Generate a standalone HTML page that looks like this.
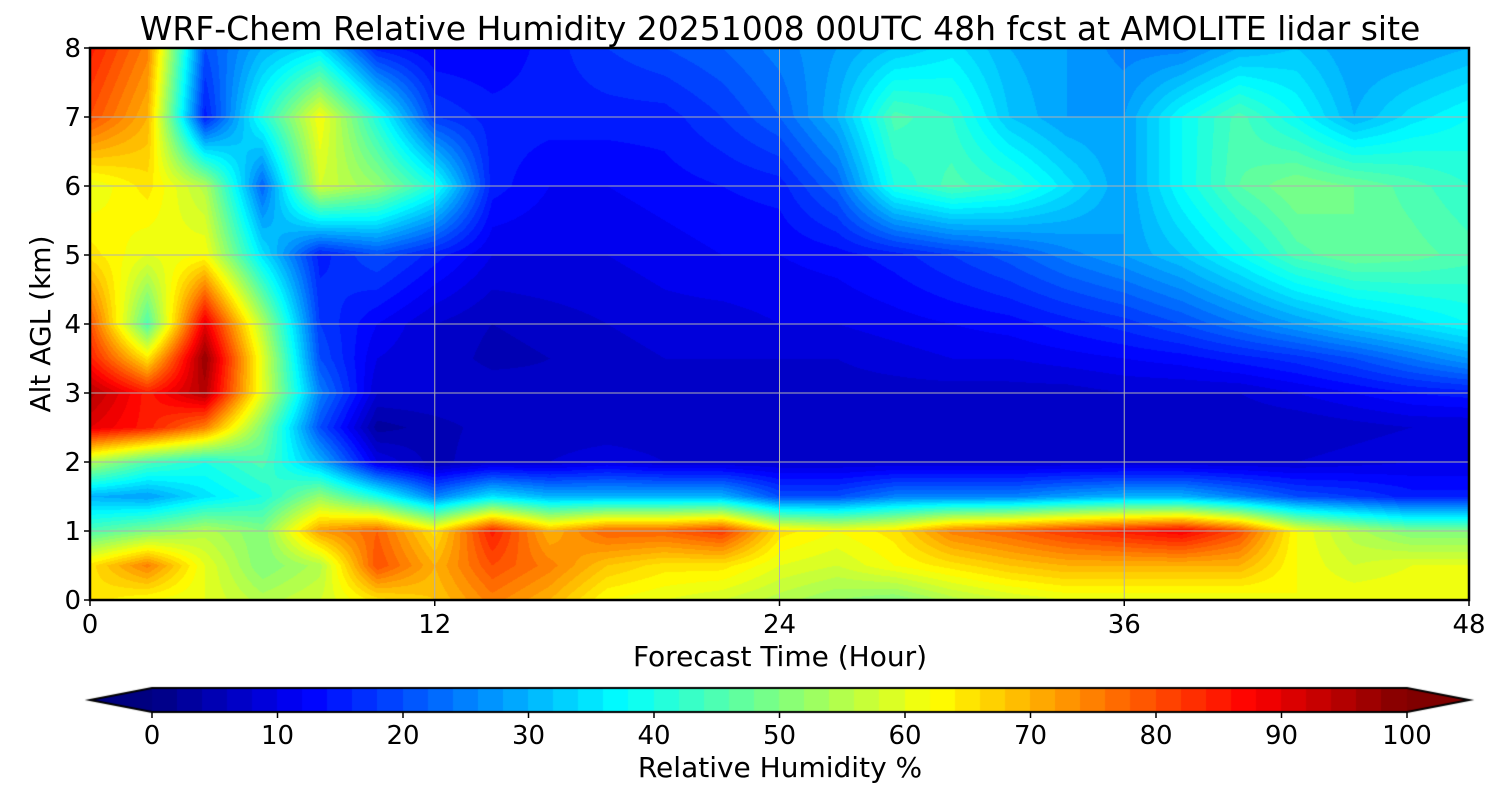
<!DOCTYPE html>
<html><head><meta charset="utf-8">
<style>
body{margin:0;background:#fff;width:1500px;height:800px;overflow:hidden;font-family:"DejaVu Sans","Liberation Sans",sans-serif;}
#wrap{position:relative;width:1500px;height:800px;}
canvas{position:absolute;left:0;top:0;}
svg{position:absolute;left:0;top:0;font-family:"DejaVu Sans","Liberation Sans",sans-serif;}
</style></head>
<body>
<div id="wrap">
<canvas id="cv" width="1500" height="800"></canvas>
<svg id="sv" width="1500" height="800"></svg>
</div>
<script>
const times=[0,2,4,6,8,10,12,14,16,18,20,22,24,26,28,30,32,34,36,38,40,42,44,46,48];
const alts=[0,0.5,1,1.5,2,2.5,3,3.5,4,5,6,7,8];
const rh0 =[65,62,60,55,58,65,68,75,70,62,60,58,55,52,50,55,58,60,60,60,60,62,62,62,62];
const rh05=[65,75,60,50,55,80,70,80,75,68,65,65,60,58,62,65,68,70,70,70,70,62,58,60,60];
const rh1 =[45,50,55,50,72,78,65,85,70,78,78,82,65,62,65,75,78,82,85,88,80,62,55,50,50];
const rh15=[30,28,35,40,52,40,25,35,30,30,30,30,20,20,25,25,25,28,30,30,25,20,18,15,15];
const rh2 =[55,45,40,45,30,10,5,8,8,10,8,8,8,8,8,8,8,8,8,8,8,8,9,10,10];
const rh25=[90,85,75,50,20,3,5,7,6,6,6,6,6,6,6,6,6,6,6,6,6,6,7,8,8];
const rh3 =[95,85,95,60,25,8,8,8,7,7,7,7,7,7,7,7,7,7,8,8,8,10,12,14,15];
const rh35=[85,65,98,60,20,10,8,5,6,7,8,8,8,8,9,10,10,11,12,13,15,17,20,24,28];
const rh4 =[80,45,90,55,18,12,8,6,7,8,9,9,10,10,11,12,13,15,17,20,24,28,32,35,38];
const rh5 =[65,60,62,35,15,20,15,10,10,10,11,12,12,13,15,18,21,25,28,32,38,45,48,47,45];
const rh6 =[60,65,55,22,58,52,40,15,12,12,13,14,15,22,40,45,42,35,28,38,46,50,48,45,42];
const rh7 =[80,70,15,40,62,40,18,15,15,15,15,18,22,30,45,42,32,28,28,38,45,38,30,35,38];
const rh8 =[85,75,20,30,35,15,12,12,15,18,20,22,25,28,32,35,30,28,25,25,30,32,28,28,30];
const rows=[rh0,rh05,rh1,rh15,rh2,rh25,rh3,rh35,rh4,rh5,rh6,rh7,rh8];
const xTicks=[0,12,24,36,48];
const yTicks=[0,1,2,3,4,5,6,7,8];
const cbTicks=[0,10,20,30,40,50,60,70,80,90,100];

const PX0=90,PX1=1469,PY0=48,PY1=600;
const xs=t=>PX0+(t-0)/48*(PX1-PX0);
const ys=a=>PY1-(a/8)*(PY1-PY0);
function jet(v){v=Math.max(0,Math.min(1,v));
 const f=x=>Math.max(0,Math.min(1,x));
 return [f(1.5-Math.abs(4*v-3)),f(1.5-Math.abs(4*v-2)),f(1.5-Math.abs(4*v-1))].map(c=>Math.round(c*255));}
function idx(arr,v){for(let i=0;i<arr.length-1;i++){if(v<=arr[i+1])return i;}return arr.length-2;}
const cv=document.getElementById('cv'),ctx=cv.getContext('2d');
const W=PX1-PX0,H=PY1-PY0;
const img=ctx.createImageData(W,H);
for(let py=0;py<H;py++){
 const a=(H-py-0.5)/H*8;const j=idx(alts,a);const fa=(a-alts[j])/(alts[j+1]-alts[j]);
 for(let px=0;px<W;px++){
  const t=(px+0.5)/W*48;const i=idx(times,t);const ft=(t-times[i])/(times[i+1]-times[i]);
  const v=(rows[j][i]*(1-ft)+rows[j][i+1]*ft)*(1-fa)+(rows[j+1][i]*(1-ft)+rows[j+1][i+1]*ft)*fa;
  const q=Math.floor(v/2)*2+1;const c=jet(q/100);
  const k=(py*W+px)*4;img.data[k]=c[0];img.data[k+1]=c[1];img.data[k+2]=c[2];img.data[k+3]=255;}
}
ctx.putImageData(img,PX0,PY0);
const CB0=152,CB1=1407,CBY=688,CBH=24;
for(let v=0;v<100;v+=2){const c=jet((v+1)/100);ctx.fillStyle=`rgb(${c})`;
 const x0=CB0+v/100*(CB1-CB0);ctx.fillRect(Math.floor(x0),CBY,Math.ceil((CB1-CB0)/50)+1,CBH);}
let c=jet(0);ctx.fillStyle=`rgb(${c})`;ctx.beginPath();ctx.moveTo(CB0,CBY);ctx.lineTo(90,CBY+CBH/2);ctx.lineTo(CB0,CBY+CBH);ctx.fill();
c=jet(1);ctx.fillStyle=`rgb(${c})`;ctx.beginPath();ctx.moveTo(CB1,CBY);ctx.lineTo(1469,CBY+CBH/2);ctx.lineTo(CB1,CBY+CBH);ctx.fill();
ctx.strokeStyle='#000';ctx.lineWidth=2;ctx.beginPath();ctx.moveTo(CB0,CBY);ctx.lineTo(CB1,CBY);ctx.lineTo(1469,CBY+CBH/2);ctx.lineTo(CB1,CBY+CBH);ctx.lineTo(CB0,CBY+CBH);ctx.lineTo(90,CBY+CBH/2);ctx.closePath();ctx.stroke();

const sv=document.getElementById('sv');const NS='http://www.w3.org/2000/svg';
function mk(tag,attrs,txt){const e=document.createElementNS(NS,tag);for(const k in attrs)e.setAttribute(k,attrs[k]);if(txt!==undefined)e.textContent=txt;sv.appendChild(e);return e;}
xTicks.forEach(t=>{const x=xs(t);
 const g=mk('line',{x1:x,x2:x,y1:PY0,y2:PY1,stroke:'#b0b0b0','stroke-width':1});
 
 
 const tk=mk('line',{x1:x,x2:x,y1:PY1,y2:PY1+6,stroke:'#000','stroke-width':1.5});
 
 
 const l=mk('text',{x:x,y:633,'font-size':26,'text-anchor':'middle'},String(t));
 
 });
yTicks.forEach(a=>{const y=ys(a);
 const g=mk('line',{x1:PX0,x2:PX1,y1:y,y2:y,stroke:'#b0b0b0','stroke-width':1});
 
 
 const tk=mk('line',{x1:PX0-6,x2:PX0,y1:y,y2:y,stroke:'#000','stroke-width':1.5});
 
 
 const l=mk('text',{x:81,y:y+9,'font-size':26,'text-anchor':'end'},String(a));
 
 });
const fr=mk('rect',{x:PX0,y:PY0,width:PX1-PX0,height:PY1-PY0,fill:'none',stroke:'#000','stroke-width':2.5});


cbTicks.forEach(v=>{const x=CB0+v/100*(CB1-CB0);
 const tk=mk('line',{x1:x,x2:x,y1:CBY+CBH,y2:CBY+CBH+6,stroke:'#000','stroke-width':1.5});
 
 
 const l=mk('text',{x:x,y:744,'font-size':26,'text-anchor':'middle'},String(v));
 
 });
const tt=mk('text',{x:780,y:40,'font-size':33,'text-anchor':'middle'},'WRF-Chem Relative Humidity 20251008 00UTC 48h fcst at AMOLITE lidar site');


const xt=mk('text',{x:780,y:666,'font-size':28,'text-anchor':'middle'},'Forecast Time (Hour)');


const yt=mk('text',{x:0,y:0,'font-size':28,'text-anchor':'middle',transform:'translate(50,324) rotate(-90)'},'Alt AGL (km)');


const ct=mk('text',{x:780,y:777,'font-size':28,'text-anchor':'middle'},'Relative Humidity %');


</script>
</body></html>
